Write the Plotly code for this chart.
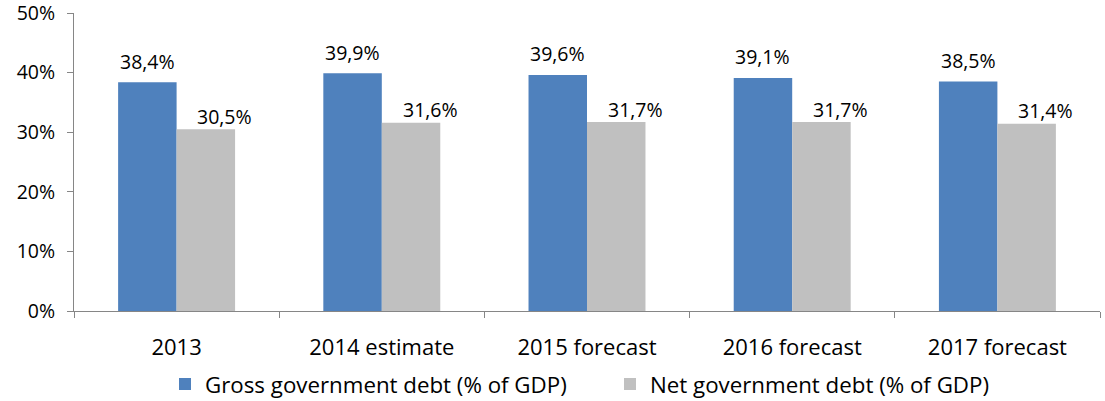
import plotly.graph_objects as go

categories = ["2013", "2014 estimate", "2015 forecast", "2016 forecast", "2017 forecast"]
gross_debt = [38.4, 39.9, 39.6, 39.1, 38.5]
net_debt = [30.5, 31.6, 31.7, 31.7, 31.4]
y_ticks = [0, 10, 20, 30, 40, 50]
y_tick_labels = ["0%", "10%", "20%", "30%", "40%", "50%"]

FONT = "'Open Sans', Lato, sans-serif"
BLUE = "#4F81BD"
GREY = "#C0C0C0"
AXIS = "#868686"
INK = "#000000"

W, H = 1105, 401
M = dict(l=74, r=5, t=13, b=90)
BARGAP = 0.43

fig = go.Figure()
fig.add_trace(go.Bar(x=categories, y=gross_debt, name="Gross government debt (% of GDP)",
                     marker=dict(color=BLUE, line=dict(width=0))))
fig.add_trace(go.Bar(x=categories, y=net_debt, name="Net government debt (% of GDP)",
                     marker=dict(color=GREY, line=dict(width=0))))

# value labels above each bar, placed over its half of the group
# (category axes take the serial index of each category for annotations)
plot_w = W - M["l"] - M["r"]
cat_w = plot_w / len(categories)
bar_w = cat_w * (1 - BARGAP) / 2
label_style = (
    (gross_debt, -bar_w / 2, 21),
    (net_debt, bar_w / 2 + 19, 13),
)
for series, dx, dy in label_style:
    for i, v in enumerate(series):
        fig.add_annotation(x=i, y=v, xref="x", yref="y",
                           text=f"{v:.1f}%".replace(".", ","),
                           showarrow=False, xshift=dx,
                           yanchor="middle", yshift=dy,
                           font=dict(family=FONT, size=19.5, color=INK))

fig.update_layout(
    width=W, height=H, margin=dict(M, autoexpand=False),
    paper_bgcolor="white", plot_bgcolor="white",
    barmode="group", bargap=BARGAP, bargroupgap=0,
    font=dict(family=FONT, size=22, color=INK),
    showlegend=True,
    legend=dict(orientation="h", xref="container", yref="container",
                x=165 / W, xanchor="left", y=17 / H, yanchor="middle",
                entrywidth=400, entrywidthmode="pixels",
                font=dict(family=FONT, size=22.3, color=INK), itemwidth=30,
                traceorder="normal"),
)
fig.update_xaxes(type="category", range=[-0.5, len(categories) - 0.5],
                 showline=True, linecolor=AXIS, linewidth=1,
                 ticks="outside", tickson="boundaries", ticklen=6, tickcolor=AXIS,
                 showgrid=False, ticklabelstandoff=17, automargin=False,
                 tickfont=dict(family=FONT, size=22, color=INK))
fig.update_yaxes(range=[0, 50], tickvals=y_ticks, ticktext=y_tick_labels,
                 showline=True, linecolor=AXIS, linewidth=1,
                 ticks="outside", ticklen=6, tickcolor=AXIS,
                 showgrid=False, zeroline=False, ticklabelstandoff=8,
                 ticklabeloverflow="allow", automargin=False,
                 tickfont=dict(family=FONT, size=19.5, color=INK))

fig.write_html("out.html")
